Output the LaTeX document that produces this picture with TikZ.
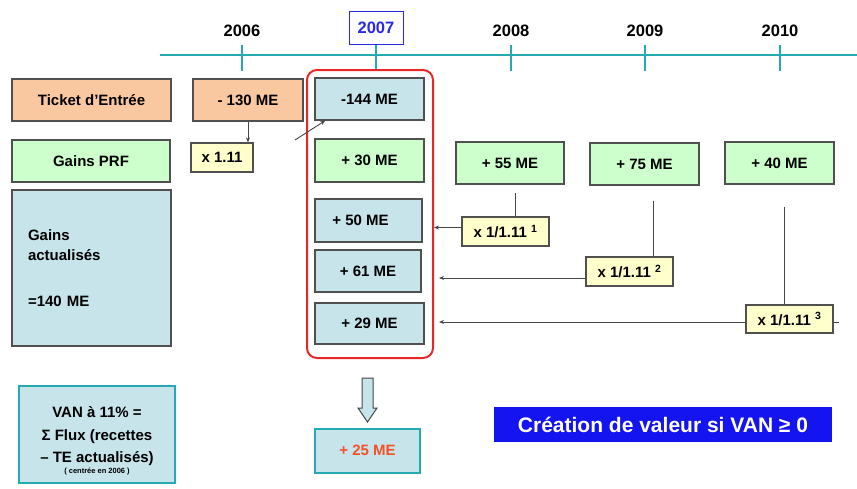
\documentclass[tikz,border=0pt]{standalone}
\usepackage{fontspec}
\setmainfont{Liberation Sans}
\usepackage{tikz}
\usetikzlibrary{arrows.meta,calc}
\definecolor{tealline}{RGB}{38,170,178}
\definecolor{ticketorange}{RGB}{250,200,160}
\definecolor{gaingreen}{RGB}{204,255,204}
\definecolor{actblue}{RGB}{198,228,234}
\definecolor{factoryellow}{RGB}{255,255,204}
\definecolor{boxgrey}{RGB}{80,80,80}
\definecolor{linkgrey}{RGB}{70,70,70}
\definecolor{framered}{RGB}{232,40,40}
\definecolor{yearblue}{RGB}{40,40,230}
\definecolor{bannerblue}{RGB}{20,20,240}
\definecolor{resultred}{RGB}{245,80,40}
\newcommand\cellfont{\fontsize{15}{20}\selectfont\bfseries}
\newcommand\yearfont{\fontsize{16.5}{20}\selectfont\bfseries}
\newcommand\bannerfont{\fontsize{21}{24}\selectfont\bfseries}

\begin{document}
\begin{tikzpicture}[x=1pt,y=-1pt,
	cell/.style={draw=boxgrey,line width=1.2pt,inner sep=0pt,minimum width=109pt,minimum height=42pt,font=\cellfont},
	factor/.style={draw=boxgrey,line width=1.2pt,fill=factoryellow,inner sep=0pt,minimum width=87pt,minimum height=29pt,font=\cellfont},
	link/.style={draw=linkgrey,line width=0.9pt},
	arr/.style={link,-{Stealth[length=5pt,width=4pt]}},
	yeartick/.style={draw=tealline,line width=2pt}]
\useasboundingbox (0,0) rectangle (857,488);
%timeline
\draw[yeartick] (160,55) -- (857,55);
\foreach \yr/\xx in {2006/242,2008/511,2009/645,2010/780}{
	\draw[yeartick] (\xx,45) -- (\xx,71);
	\path (\xx,31) node[font=\yearfont] (y\yr) {\yr};
}
\path (376,28) node[draw=yearblue,line width=1pt,minimum width=54pt,minimum height=33pt,inner sep=0pt,text=yearblue,font=\yearfont] (y2007) {2007};
\draw[yeartick] (y2007.south) -- (376,71);
%left column
\path (91.5,100) node[cell,fill=ticketorange,minimum width=159pt] (ticket) {Ticket d'Entrée};
\path (91,161) node[cell,fill=gaingreen,minimum width=158pt] (gains) {Gains PRF};
\path (91.5,268) node[cell,fill=actblue,minimum width=159pt,minimum height=156pt,text width=127pt,align=left] (actual) {Gains\\actualisés\\[26pt]=140 ME};
%2006
\path (248,100) node[cell,fill=ticketorange,minimum width=110pt] (m130) {- 130 ME};
\path (222,157.5) node[factor,minimum width=62pt] (x111) {x 1.11};
\draw[arr] (m130.south) -- (m130.south |- x111.north);
%2007
\path (370,214) node[draw=framered,line width=2pt,rounded corners=10pt,minimum width=126pt,minimum height=288pt] (frame) {};
\path (369.5,99) node[cell,fill=actblue] (m144) {-144 ME};
\path (369.5,160.5) node[cell,fill=gaingreen,minimum height=43pt] (p30) {+ 30 ME};
\path (368.5,220.5) node[cell,fill=actblue,minimum width=107pt,minimum height=43pt] (p50) {+ 50 ME\kern16pt};
\path (368,271) node[cell,fill=actblue,minimum width=106pt] (p61) {+ 61 ME};
\path (369.5,323.5) node[cell,fill=actblue,minimum height=41pt] (p29) {+ 29 ME};
\coordinate (carry) at (295,140);
\draw[arr] (carry) -- (m144.206);
%2008-2010
\path (510,163) node[cell,fill=gaingreen,minimum width=108pt] (p55) {+ 55 ME};
\path (644.5,164) node[cell,fill=gaingreen] (p75) {+ 75 ME};
\path (779.5,163) node[cell,fill=gaingreen] (p40) {+ 40 ME};
\path (505.5,231.5) node[factor] (d1) {x 1/1.11 \textsuperscript{1}};
\path (629.5,271.5) node[factor] (d2) {x 1/1.11 \textsuperscript{2}};
\path (789.5,319) node[factor,minimum height=28pt] (d3) {x 1/1.11 \textsuperscript{3}};
\coordinate (l1) at (515,193);
\coordinate (l2) at (653,201);
\coordinate (l3) at (784,207);
\draw[link] (l1) -- (l1 |- d1.north);
\draw[link] (l2) -- (l2 |- d2.north);
\draw[link] (l3) -- (l3 |- d3.north);
\draw[arr] ($(d1.west)+(0,-4)$) -- ($(d1.west -| frame.east)+(0,-4)$);
\draw[arr] ($(d2.west)+(0,6.5)$) -- ($(d2.west -| frame.east)+(5,6.5)$);
\draw[arr] ($(d3.west)+(0,3)$) -- ($(d3.west -| frame.east)+(5,3)$);
\draw[link] ($(d3.east)+(0,3)$) -- ++(5,0);
%bottom
\path (97,434.5) node[draw=tealline,line width=2pt,fill=actblue,minimum width=156pt,minimum height=97pt] (van) {};
\path (97,441) node[align=center,font=\fontsize{15}{22.5}\selectfont\bfseries] (vantext) {VAN à 11\% =\\Σ Flux (recettes\\– TE actualisés)\\[-12pt]{\fontsize{7.5}{9}\selectfont ( centrée en 2006 )}};
\filldraw[fill=actblue,draw=linkgrey,line width=1pt] (362,378) -- (373,378) -- (373,408) -- (377,408) -- (367.5,422) -- (358,408) -- (362,408) -- cycle;
\path (367.5,450.5) node[draw=tealline,line width=2pt,fill=actblue,minimum width=105pt,minimum height=44pt,text=resultred,font=\cellfont] (p25) {+ 25 ME};
\path (663,424.5) node[fill=bannerblue,minimum width=338pt,minimum height=35pt,text=white,font=\bannerfont] (banner) {Création de valeur si VAN ≥ 0};
\end{tikzpicture}
\end{document}
